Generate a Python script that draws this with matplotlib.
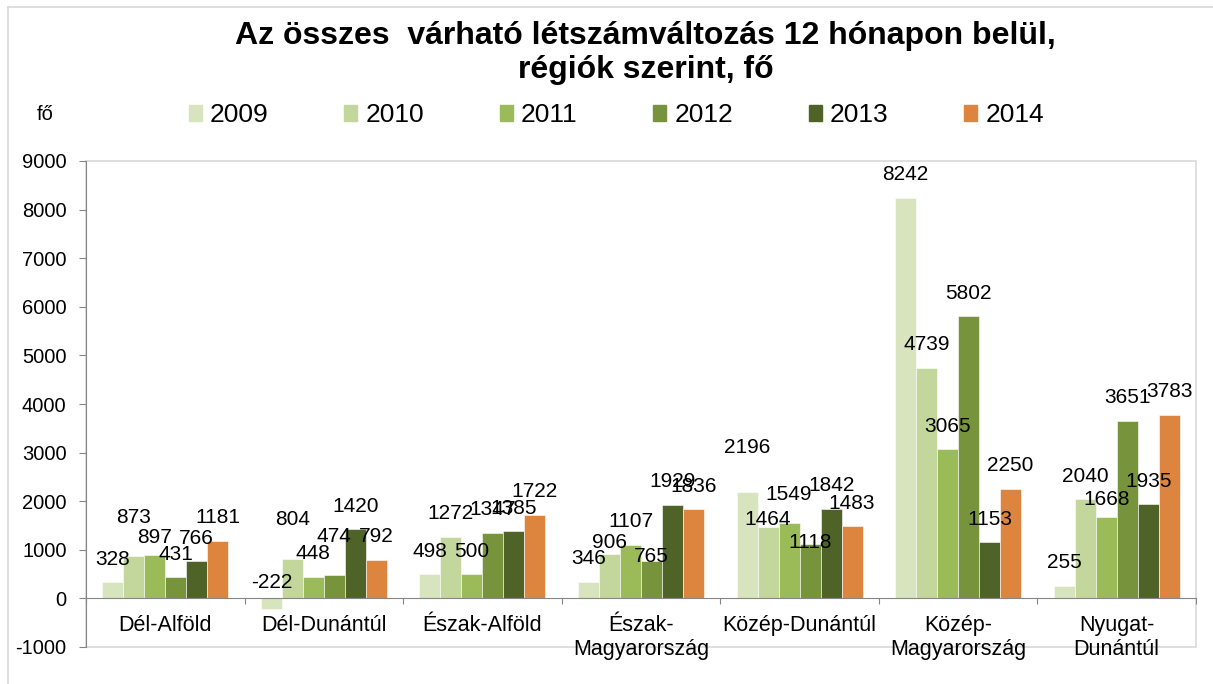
import matplotlib
matplotlib.use("Agg")
import matplotlib.pyplot as plt
from matplotlib.patches import Rectangle
from matplotlib.lines import Line2D
import numpy as np

plt.rcParams["font.family"] = ["Liberation Sans", "DejaVu Sans"]
plt.rcParams["axes.unicode_minus"] = False

regions = ["Dél-Alföld", "Dél-Dunántúl", "Észak-Alföld", "Észak-\nMagyarország",
           "Közép-Dunántúl", "Közép-\nMagyarország", "Nyugat-\nDunántúl"]
years = ["2009", "2010", "2011", "2012", "2013", "2014"]

v2009 = [328, -222, 498, 346, 2196, 8242, 255]
v2010 = [873, 804, 1272, 906, 1464, 4739, 2040]
v2011 = [897, 448, 500, 1107, 1549, 3065, 1668]
v2012 = [431, 474, 1347, 765, 1118, 5802, 3651]
v2013 = [766, 1420, 1385, 1929, 1842, 1153, 1935]
v2014 = [1181, 792, 1722, 1836, 1483, 2250, 3783]
series = [v2009, v2010, v2011, v2012, v2013, v2014]

colors = ["#D7E4BD", "#C3D69B", "#9BBB59", "#77933C", "#4F6228", "#DD853F"]

# where the labels sit above the bars (hand-moved ones in the original)
label_dy_default = 475
label_dy = {(0, 1): 800, (0, 2): 360,
            (1, 0): 552, (1, 1): 810, (1, 3): 790,
            (3, 1): 250, (3, 3): 90,
            (4, 0): 900, (4, 1): 150, (4, 2): 580, (4, 3): 40,
            (6, 2): 360}

fig = plt.figure(figsize=(12.13, 6.84), dpi=100)
ax = fig.add_axes([86 / 1213, 37 / 684, 1110 / 1213, 486 / 684])

x = np.arange(len(regions))
w = 0.1325
for j, vals in enumerate(series):
    pos = x + (j - 2.5) * w
    ax.bar(pos, vals, width=w, color=colors[j], edgecolor="white", linewidth=0.4,
           label=years[j], zorder=2)
    for i, v in enumerate(vals):
        dy = label_dy.get((i, j), label_dy_default)
        ax.text(pos[i], v + dy, str(v), ha="center", va="center", fontsize=15, zorder=3)

ax.set_xlim(-0.5, len(regions) - 0.5)
ax.set_ylim(-1000, 9000)
ax.set_yticks(np.arange(-1000, 9001, 1000))
ax.tick_params(axis="y", direction="out", length=5, color="#868686", labelsize=14.5, pad=9)

for s in ["top", "right"]:
    ax.spines[s].set_visible(False)
ax.spines["left"].set_color("#868686")
ax.spines["bottom"].set_position(("data", 0))
ax.spines["bottom"].set_color("#868686")
ax.add_patch(Rectangle((0, 0), 1, 1, transform=ax.transAxes, fill=False,
                       ec="#D9D9D9", lw=1.2, clip_on=False, zorder=0))

ax.set_xticks(np.arange(len(regions) + 1) - 0.5)
ax.set_xticklabels([])
ax.tick_params(axis="x", which="major", direction="out", length=4, color="#868686")
ax.set_xticks(x, minor=True)
ax.set_xticklabels(regions, minor=True, fontsize=15.5, va="top", linespacing=1.2)
ax.tick_params(axis="x", which="minor", length=0, pad=12)

fig.text(0.532, 0.923, "Az összes  várható létszámváltozás 12 hónapon belül,\nrégiók szerint, fő",
         ha="center", va="center", fontsize=23, fontweight="bold", linespacing=1.18)
fig.text(45 / 1213, 1 - 115 / 684, "fő", ha="center", va="center", fontsize=14.5)

handles = [Rectangle((0, 0), 1, 1, color=c) for c in colors]
fig.legend(handles, years, loc="center", bbox_to_anchor=(0.508, 0.832), ncol=6,
           frameon=False, fontsize=19, handlelength=0.5, handleheight=0.55,
           handletextpad=0.3, columnspacing=2.87)

fig.add_artist(Line2D([8 / 1213, 1], [1 - 7 / 684, 1 - 7 / 684], color="#D9D9D9", lw=1.2))
fig.add_artist(Line2D([8 / 1213, 8 / 1213], [0, 1 - 7 / 684], color="#D9D9D9", lw=1.2))

fig.savefig("out.png", dpi=100)
